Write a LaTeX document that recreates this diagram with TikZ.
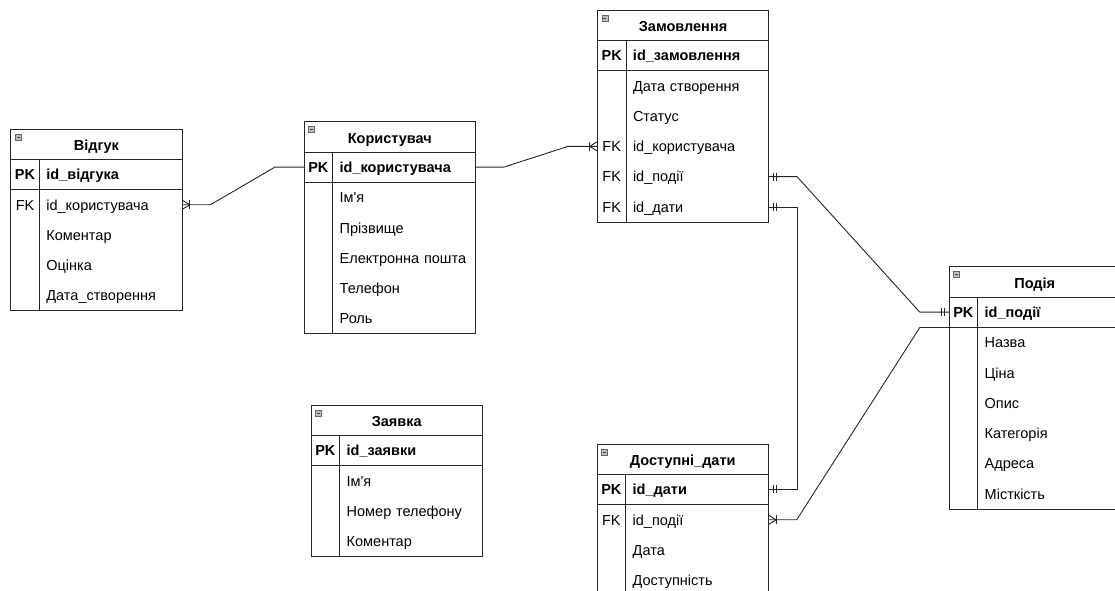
\documentclass[tikz,border=0pt]{standalone}
\usepackage{fontspec}
\setmainfont{Liberation Sans}
\usetikzlibrary{calc}

\newcommand\erW{171.5}
\newcommand\erH{30.3}
\newcommand\erK{28.7}

\tikzset{
  erline/.style={draw=black!85, line width=0.9pt},
  erconn/.style={draw=black!85, line width=0.9pt},
  erhdr/.style={inner sep=0pt, minimum width=171.5pt, minimum height=30.3pt,
    text height=12.5pt, text depth=0pt,
    font=\fontsize{14.5}{16}\selectfont\bfseries},
  errow/.style={inner sep=0pt, minimum width=171.5pt, minimum height=30.3pt,
    text height=11.5pt, text depth=1pt,
    text width=171.5pt, align=left, font=\fontsize{14.5}{16}\selectfont},
  ericon/.style={draw=black!60, fill=black!25, line width=0.5pt},
  pics/manyR/.style={code={\draw[erconn] (0,-4.5) -- (7.5,0) -- (0,4.5); \draw[erconn] (7.5,-4.5) -- (7.5,4.5);}},
  pics/manyL/.style={code={\draw[erconn] (0,-4.5) -- (-7.5,0) -- (0,4.5); \draw[erconn] (-7.5,-4.5) -- (-7.5,4.5);}},
  pics/oneR/.style={code={\draw[erconn] (4.5,-4) -- (4.5,4) (7.5,-4) -- (7.5,4);}},
  pics/oneL/.style={code={\draw[erconn] (-4.5,-4) -- (-4.5,4) (-7.5,-4) -- (-7.5,4);}},
}

% #1 name, #2 x, #3 y top, #4 title, #5 total rows incl. header
\newcommand\erBox[5]{%
  \node[erhdr] (#1) at ({#2+\erW/2},{#3+\erH/2}) {#4};
  \draw[erline] (#2,#3) rectangle ({#2+\erW},{#3+#5*\erH});
  \draw[erline] (#2,{#3+\erH}) -- ({#2+\erW},{#3+\erH});
  \draw[erline] (#2,{#3+2*\erH}) -- ({#2+\erW},{#3+2*\erH});
  \draw[erline] ({#2+\erK},{#3+\erH}) -- ({#2+\erK},{#3+#5*\erH});
  \draw[ericon] ({#2+4.5},{#3+5}) rectangle ({#2+10.5},{#3+11});
  \draw[black!75, line width=0.7pt] ({#2+6},{#3+8}) -- ({#2+9},{#3+8});
}
% #1 name, #2 x, #3 y top, #4 row index, #5 key, #6 text
\newcommand\erRow[6]{%
  \node[errow] (#1) at ({#2+\erW/2},{#3+(#4+0.5)*\erH}) {\makebox[\erK pt][c]{#5}\hspace{7pt}#6};
}

\begin{document}
\begin{tikzpicture}[x=1pt, y=-1pt]
\useasboundingbox (0,0) rectangle (1115,590);
\clip (0,0) rectangle (1115,590);
\fill[white] (0,0) rectangle (1115,590);

% Відгук
\erBox{vk}{10.7}{129}{Відгук}{6}
\erRow{vk-pk}{10.7}{129}{1}{\bfseries PK}{\bfseries id\_відгука}
\erRow{vk-fk}{10.7}{129}{2}{FK}{id\_користувача}
\erRow{vk-r3}{10.7}{129}{3}{}{Коментар}
\erRow{vk-r4}{10.7}{129}{4}{}{Оцінка}
\erRow{vk-r5}{10.7}{129}{5}{}{Дата\_створення}

% Користувач
\erBox{ko}{304}{121.7}{Користувач}{7}
\erRow{ko-pk}{304}{121.7}{1}{\bfseries PK}{\bfseries id\_користувача}
\erRow{ko-r2}{304}{121.7}{2}{}{Ім\textquotesingle я}
\erRow{ko-r3}{304}{121.7}{3}{}{Прізвище}
\erRow{ko-r4}{304}{121.7}{4}{}{Електронна пошта}
\erRow{ko-r5}{304}{121.7}{5}{}{Телефон}
\erRow{ko-r6}{304}{121.7}{6}{}{Роль}

% Замовлення
\erBox{za}{597.3}{10}{Замовлення}{7}
\erRow{za-pk}{597.3}{10}{1}{\bfseries PK}{\bfseries id\_замовлення}
\erRow{za-r2}{597.3}{10}{2}{}{Дата створення}
\erRow{za-r3}{597.3}{10}{3}{}{Статус}
\erRow{za-fk1}{597.3}{10}{4}{FK}{id\_користувача}
\erRow{za-fk2}{597.3}{10}{5}{FK}{id\_події}
\erRow{za-fk3}{597.3}{10}{6}{FK}{id\_дати}

% Подія
\erBox{po}{949}{266.7}{Подія}{8}
\erRow{po-pk}{949}{266.7}{1}{\bfseries PK}{\bfseries id\_події}
\erRow{po-r2}{949}{266.7}{2}{}{Назва}
\erRow{po-r3}{949}{266.7}{3}{}{Ціна}
\erRow{po-r4}{949}{266.7}{4}{}{Опис}
\erRow{po-r5}{949}{266.7}{5}{}{Категорія}
\erRow{po-r6}{949}{266.7}{6}{}{Адреса}
\erRow{po-r7}{949}{266.7}{7}{}{Місткість}

% Доступні_дати
\erBox{dd}{597}{444}{Доступні\_дати}{5}
\erRow{dd-pk}{597}{444}{1}{\bfseries PK}{\bfseries id\_дати}
\erRow{dd-fk}{597}{444}{2}{FK}{id\_події}
\erRow{dd-r3}{597}{444}{3}{}{Дата}
\erRow{dd-r4}{597}{444}{4}{}{Доступність}

% Заявка
\erBox{zv}{311}{405}{Заявка}{5}
\erRow{zv-pk}{311}{405}{1}{\bfseries PK}{\bfseries id\_заявки}
\erRow{zv-r2}{311}{405}{2}{}{Ім\textquotesingle я}
\erRow{zv-r3}{311}{405}{3}{}{Номер телефону}
\erRow{zv-r4}{311}{405}{4}{}{Коментар}

% connectors
\draw[erconn] (vk-fk.east) -- ($(vk-fk.east)+(28,0)$) -- ($(ko-pk.west)+(-29,0)$) -- (ko-pk.west);
\pic at (vk-fk.east) {manyR};

\draw[erconn] (ko-pk.east) -- ($(ko-pk.east)+(28,0)$) -- ($(za-fk1.west)+(-29,0)$) -- (za-fk1.west);
\pic at (za-fk1.west) {manyL};

\draw[erconn] (za-fk2.east) -- ($(za-fk2.east)+(28,0)$) -- ($(po-pk.west)+(-29,0)$) -- (po-pk.west);
\pic at (za-fk2.east) {oneR};
\pic at (po-pk.west) {oneL};

\draw[erconn] (za-fk3.east) -- ++(28,0) |- (dd-pk.east);
\pic at (za-fk3.east) {oneR};
\pic at (dd-pk.east) {oneR};

\draw[erconn] (dd-fk.east) -- ($(dd-fk.east)+(28,0)$) -- ($(po-pk.south west)+(-29,0)$) -- (po-pk.south west);
\pic at (dd-fk.east) {manyR};
\end{tikzpicture}
\end{document}
